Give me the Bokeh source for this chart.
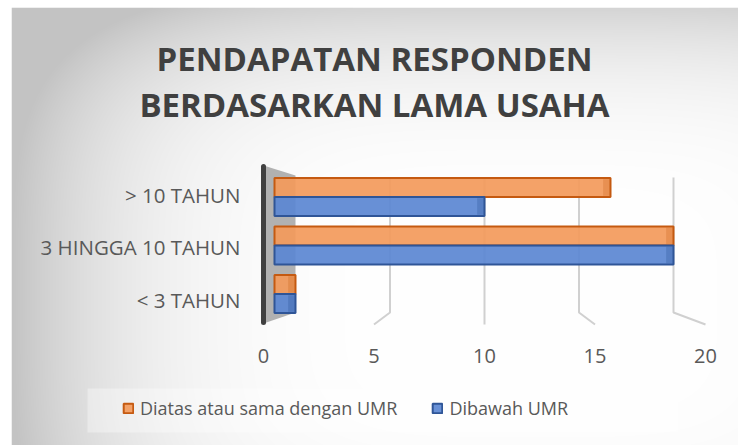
import numpy as np
from bokeh.plotting import figure
from bokeh.models import ColumnDataSource, Legend, LegendItem
from bokeh.core.properties import value
from bokeh.transform import dodge
from bokeh.embed import file_html
from bokeh.resources import INLINE

# ---- data -----------------------------------------------------------
CATEGORIES = ["< 3 TAHUN", "3 HINGGA 10 TAHUN", "> 10 TAHUN"]
SERIES_NAMES = ["Diatas atau sama dengan UMR", "Dibawah UMR"]
DIATAS_UMR = [1, 19, 16]
DIBAWAH_UMR = [1, 19, 10]
TICKS = [0, 5, 10, 15, 20]
TITLE_LINES = ["PENDAPATAN RESPONDEN", "BERDASARKAN LAMA USAHA"]

# ---- geometry ---------------------------------------------------------
W, H = 738, 445
BL, BT = 11, 7
FW, FH = W - BL, H - BT
PX_PER_X = 21.0
PX_PER_Y = 48.5
X0 = 10 - (484 - BL) / PX_PER_X
X1 = X0 + FW / PX_PER_X
Y1 = 1 + (245 - BT) / PX_PER_Y
Y0 = Y1 - FH / PX_PER_Y


def fx(px):
    return X0 + (px - BL) / PX_PER_X


def fy(py):
    return Y1 - (py - BT) / PX_PER_Y


FRONT = 22.1 / PX_PER_X
BACK = 18.9 / PX_PER_X


def front(v):
    return 10 + (v - 10) * FRONT


def back(v):
    return 10 + (v - 10) * BACK


FONT = value("Open Sans")
TXT = "#595959"
ORANGE, ORANGE_D = "#F39A5B", "#C55A11"
BLUE, BLUE_D = "#5B87D3", "#2F5597"

p = figure(width=W, height=H, x_range=(X0, X1), y_range=(Y0, Y1),
           x_axis_type=None, y_axis_type=None, output_backend="svg",
           toolbar_location=None, min_border=0, min_border_left=BL,
           min_border_top=BT)
p.border_fill_color = "white"
p.outline_line_color = None
p.grid.visible = False

# ---- background gradient ---------------------------------------------------
yy, xx = np.mgrid[0:FH, 0:FW]
dx = (xx + BL - 530) / 520.0
dy = (yy + BT - 300) / 320.0
d4 = np.clip(dx ** 4 + dy ** 4, 0, 1)
g = (255 - 60 * d4).astype(np.uint8)[::-1]
img = np.empty((FH, FW), dtype=np.uint32)
view = img.view(dtype=np.uint8).reshape((FH, FW, 4))
view[..., 0] = g
view[..., 1] = g
view[..., 2] = g
view[..., 3] = 255
p.image_rgba(image=[img], x=X0, y=Y0, dw=X1 - X0, dh=Y1 - Y0)

# ---- title -----------------------------------------------------------------
p.text(x=[fx(374), fx(374)], y=[fy(58), fy(104)], text=TITLE_LINES,
       text_align="center", text_baseline="middle", text_font=FONT,
       text_font_style="bold", text_font_size="33px", text_color="#404040")

# ---- gridlines (perspective) ----------------------------------------------
gx, gy = [], []
for v in TICKS[1:]:
    gx.append([back(v), back(v), front(v)])
    gy.append([fy(177), fy(312), fy(324)])
p.multi_line(xs=gx, ys=gy, line_color="#d0d0d0", line_width=2)

# ---- wall --------------------------------------------------------------------
p.patch(x=[front(0), back(0), back(0), front(0)],
        y=[fy(165), fy(175), fy(312), fy(323)],
        fill_color="#a9a9a9", fill_alpha=0.9, line_color=None)
p.segment(x0=[front(0)], y0=[fy(166)], x1=[front(0)], y1=[fy(322)],
          line_color="#404040", line_width=5, line_cap="round")

# ---- bars --------------------------------------------------------------------
src = ColumnDataSource(dict(idx=list(range(len(CATEGORIES))),
                            diatas=DIATAS_UMR, dibawah=DIBAWAH_UMR,
                            diatas_c=[v - 0.35 for v in DIATAS_UMR],
                            dibawah_c=[v - 0.35 for v in DIBAWAH_UMR]))
OFF, BH = 0.197, 0.39
r_or = p.hbar(y=dodge("idx", OFF, range=p.y_range), left=0, right="diatas",
              height=BH, source=src, fill_color=ORANGE, fill_alpha=0.92,
              line_color=ORANGE_D, line_width=2)
r_bl = p.hbar(y=dodge("idx", -OFF, range=p.y_range), left=0, right="dibawah",
              height=BH, source=src, fill_color=BLUE, fill_alpha=0.92,
              line_color=BLUE_D, line_width=2)
p.hbar(y=dodge("idx", OFF, range=p.y_range), left="diatas_c", right="diatas",
       height=BH - 0.05, source=src, fill_color=ORANGE_D, fill_alpha=0.25,
       line_color=None)
p.hbar(y=dodge("idx", -OFF, range=p.y_range), left="dibawah_c", right="dibawah",
       height=BH - 0.05, source=src, fill_color=BLUE_D, fill_alpha=0.3,
       line_color=None)

# ---- category labels -----------------------------------------------------------
p.text(x=[fx(240)] * len(CATEGORIES),
       y=[i * 1.08 - 0.12 for i in range(len(CATEGORIES))],
       text=CATEGORIES, text_align="right", text_baseline="middle",
       text_font=FONT, text_font_size="20.5px", text_color=TXT)

# ---- tick labels -----------------------------------------------------------------
p.text(x=[front(v) for v in TICKS], y=[fy(355)] * len(TICKS),
       text=[str(v) for v in TICKS], text_align="center",
       text_baseline="middle", text_font=FONT, text_font_size="20px",
       text_color=TXT)

# ---- legend ------------------------------------------------------------------------
p.quad(left=[fx(87)], right=[fx(678)], top=[fy(388)], bottom=[fy(432)],
       fill_color="white", fill_alpha=0.35, line_color=None)
legend = Legend(items=[LegendItem(label=SERIES_NAMES[0], renderers=[r_or]),
                       LegendItem(label=SERIES_NAMES[1], renderers=[r_bl])],
                orientation="horizontal", location=(111, 25),
                glyph_width=12, glyph_height=12, label_standoff=6, spacing=34,
                padding=0, margin=0, border_line_color=None,
                background_fill_alpha=0, label_text_font="Open Sans",
                label_text_font_size="18px", label_text_color=TXT)
p.add_layout(legend)

open("out.html", "w").write(file_html(p, INLINE))
